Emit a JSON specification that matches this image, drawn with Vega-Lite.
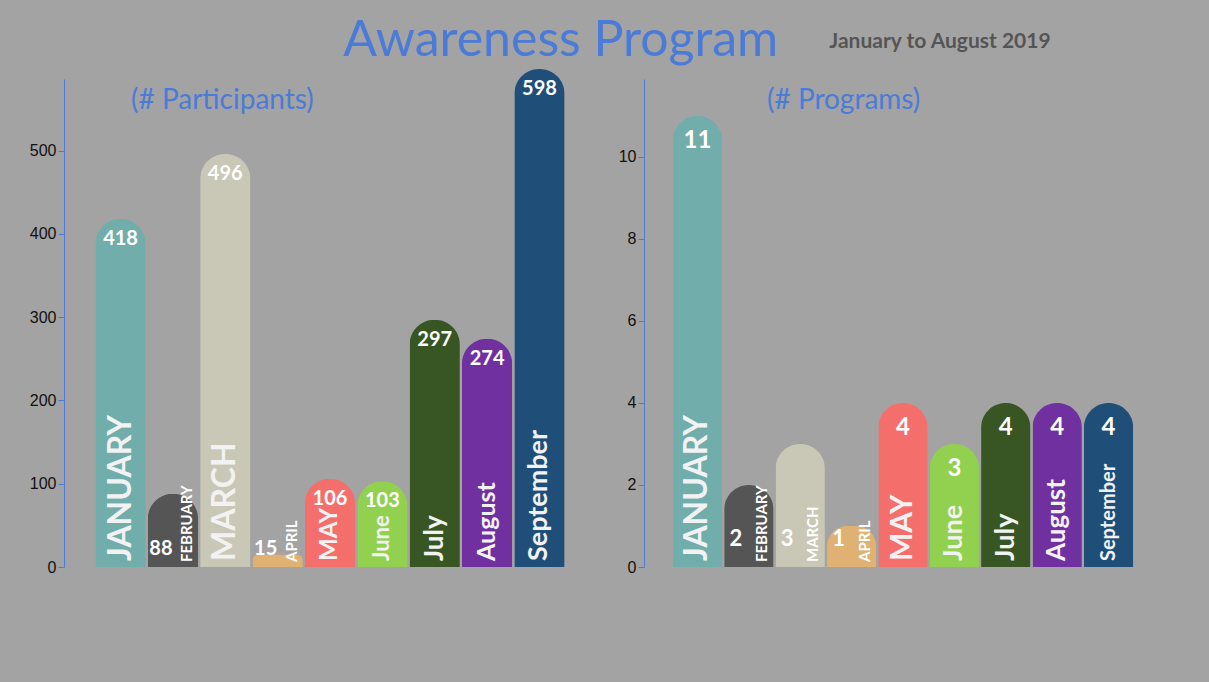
{
  "$schema": "https://vega.github.io/schema/vega-lite/v6.json",
  "background": "#a3a3a3",
  "padding": {"left": 29, "top": 16, "right": 49, "bottom": 110},
  "datasets": {
    "months": [
      {"month": "January", "label": "JANUARY", "participants": 418, "programs": 11},
      {"month": "February", "label": "FEBRUARY", "participants": 88, "programs": 2},
      {"month": "March", "label": "MARCH", "participants": 496, "programs": 3},
      {"month": "April", "label": "APRIL", "participants": 15, "programs": 1},
      {"month": "May", "label": "MAY", "participants": 106, "programs": 4},
      {"month": "June", "label": "June", "participants": 103, "programs": 3},
      {"month": "July", "label": "July", "participants": 297, "programs": 4},
      {"month": "August", "label": "August", "participants": 274, "programs": 4},
      {"month": "September", "label": "September", "participants": 598, "programs": 4}
    ]
  },
  "title": {
    "text": "January to August 2019",
    "anchor": "start",
    "frame": "bounds",
    "dx": 800,
    "dy": 40,
    "font": "Lato",
    "fontSize": 21,
    "fontWeight": "bold",
    "color": "#555555"
  },
  "vconcat": [
    {
      "title": {
        "text": "Awareness Program",
        "anchor": "start",
        "frame": "bounds",
        "dx": 314,
        "offset": 3,
        "font": "Lato",
        "fontSize": 50,
        "fontWeight": "normal",
        "color": "#4b7bd8"
      },
      "spacing": 22,
      "resolve": {"scale": {"y": "independent", "size": "independent"}},
      "hconcat": [
        {
          "width": 532,
          "height": 488,
          "title": {
            "text": "(# Participants)",
            "anchor": "start",
            "frame": "group",
            "dx": 67,
            "dy": 74,
            "offset": 0,
            "baseline": "bottom",
            "font": "Lato",
            "fontSize": 28,
            "fontWeight": "normal",
            "color": "#4b7bd8"
          },
          "data": {"name": "months"},
          "encoding": {
            "x": {
              "field": "month",
              "type": "nominal",
              "sort": ["January", "February", "March", "April", "May", "June", "July", "August", "September"],
              "scale": {"paddingInner": 0.04, "paddingOuter": 0.6},
              "axis": null
            }
          },
          "layer": [
            {
              "mark": {"type": "bar", "cornerRadiusTopLeft": 25, "cornerRadiusTopRight": 25},
              "encoding": {
                "y": {
                  "field": "participants",
                  "type": "quantitative",
                  "scale": {"domain": [0, 586], "nice": false},
                  "axis": {"values": [0, 100, 200, 300, 400, 500], "title": null}
                },
                "color": {
                  "field": "month",
                  "type": "nominal",
                  "scale": {
                    "domain": ["January", "February", "March", "April", "May", "June", "July", "August", "September"],
                    "range": ["#70adab", "#555555", "#c9c8b6", "#dfb273", "#f46f6c", "#92d050", "#375623", "#7030a0", "#1f4e79"]
                  },
                  "legend": null
                }
              }
            },
            {
              "transform": [{"filter": {"not": {"field": "month", "oneOf": ["February", "April"]}}}],
              "mark": {"type": "text", "font": "Lato", "fontWeight": "bold", "fontSize": 20, "color": "#ffffff", "baseline": "middle", "dy": 20},
              "encoding": {
                "y": {"field": "participants", "type": "quantitative"},
                "text": {"field": "participants", "type": "quantitative"}
              }
            },
            {
              "transform": [{"filter": {"field": "month", "oneOf": ["February", "April"]}}],
              "mark": {"type": "text", "font": "Lato", "fontWeight": "bold", "fontSize": 20, "color": "#ffffff", "baseline": "middle", "dy": -18, "dx": -12},
              "encoding": {
                "y": {"datum": 0},
                "text": {"field": "participants", "type": "quantitative"}
              }
            },
            {
              "transform": [{"filter": {"not": {"field": "month", "oneOf": ["February", "April"]}}}],
              "mark": {"type": "text", "font": "Lato", "fontWeight": "bold", "color": "#f2f2f2", "angle": 270, "align": "left", "baseline": "middle", "dx": 6},
              "encoding": {
                "y": {"datum": 0},
                "text": {"field": "label", "type": "nominal"},
                "size": {
                  "field": "month",
                  "type": "nominal",
                  "scale": {
                    "type": "ordinal",
                    "domain": ["January", "March", "May", "June", "July", "August", "September"],
                    "range": [32, 32, 24, 22, 26, 25, 27]
                  },
                  "legend": null
                }
              }
            },
            {
              "transform": [{"filter": {"field": "month", "oneOf": ["February", "April"]}}],
              "mark": {"type": "text", "font": "Lato", "fontWeight": "bold", "fontSize": 15, "color": "#ffffff", "angle": 270, "align": "left", "baseline": "middle", "dx": 5, "dy": 14},
              "encoding": {
                "y": {"datum": 0},
                "text": {"field": "label", "type": "nominal"}
              }
            }
          ]
        },
        {
          "width": 518,
          "height": 488,
          "title": {
            "text": "(# Programs)",
            "anchor": "start",
            "frame": "group",
            "dx": 123,
            "dy": 64,
            "offset": 0,
            "baseline": "bottom",
            "font": "Lato",
            "fontSize": 28,
            "fontWeight": "normal",
            "color": "#4b7bd8"
          },
          "data": {"name": "months"},
          "encoding": {
            "x": {
              "field": "month",
              "type": "nominal",
              "sort": ["January", "February", "March", "April", "May", "June", "July", "August", "September"],
              "scale": {"paddingInner": 0.04, "paddingOuter": 0.56},
              "axis": null
            }
          },
          "layer": [
            {
              "mark": {"type": "bar", "cornerRadiusTopLeft": 25, "cornerRadiusTopRight": 25},
              "encoding": {
                "y": {
                  "field": "programs",
                  "type": "quantitative",
                  "scale": {"domain": [0, 11.9], "nice": false},
                  "axis": {"values": [0, 2, 4, 6, 8, 10], "title": null}
                },
                "color": {
                  "field": "month",
                  "type": "nominal",
                  "scale": {
                    "domain": ["January", "February", "March", "April", "May", "June", "July", "August", "September"],
                    "range": ["#70adab", "#555555", "#c9c8b6", "#dfb273", "#f46f6c", "#92d050", "#375623", "#7030a0", "#1f4e79"]
                  },
                  "legend": null
                }
              }
            },
            {
              "transform": [{"filter": {"not": {"field": "month", "oneOf": ["February", "March", "April"]}}}],
              "mark": {"type": "text", "font": "Lato", "fontWeight": "bold", "fontSize": 24, "color": "#ffffff", "baseline": "middle", "dy": 25},
              "encoding": {
                "y": {"field": "programs", "type": "quantitative"},
                "text": {"field": "programs", "type": "quantitative"}
              }
            },
            {
              "transform": [{"filter": {"field": "month", "oneOf": ["February", "March", "April"]}}],
              "mark": {"type": "text", "font": "Lato", "fontWeight": "bold", "fontSize": 22, "color": "#ffffff", "baseline": "middle", "dy": -28, "dx": -13},
              "encoding": {
                "y": {"datum": 0},
                "text": {"field": "programs", "type": "quantitative"}
              }
            },
            {
              "transform": [{"filter": {"not": {"field": "month", "oneOf": ["February", "March", "April"]}}}],
              "mark": {"type": "text", "font": "Lato", "fontWeight": "bold", "color": "#f2f2f2", "angle": 270, "align": "left", "baseline": "middle", "dx": 6},
              "encoding": {
                "y": {"datum": 0},
                "text": {"field": "label", "type": "nominal"},
                "size": {
                  "field": "month",
                  "type": "nominal",
                  "scale": {
                    "type": "ordinal",
                    "domain": ["January", "May", "June", "July", "August", "September"],
                    "range": [32, 30, 27, 27, 26, 20]
                  },
                  "legend": null
                }
              }
            },
            {
              "transform": [{"filter": {"field": "month", "oneOf": ["February", "March", "April"]}}],
              "mark": {"type": "text", "font": "Lato", "fontWeight": "bold", "fontSize": 15, "color": "#ffffff", "angle": 270, "align": "left", "baseline": "middle", "dx": 5, "dy": 13},
              "encoding": {
                "y": {"datum": 0},
                "text": {"field": "label", "type": "nominal"}
              }
            }
          ]
        }
      ]
    }
  ],
  "config": {
    "view": {"stroke": null},
    "axis": {
      "grid": false,
      "domainColor": "#4a7bd6",
      "tickColor": "#4a7bd6",
      "labelColor": "#111111",
      "labelFont": "Liberation Sans",
      "labelFontSize": 16,
      "tickSize": 6
    }
  }
}
